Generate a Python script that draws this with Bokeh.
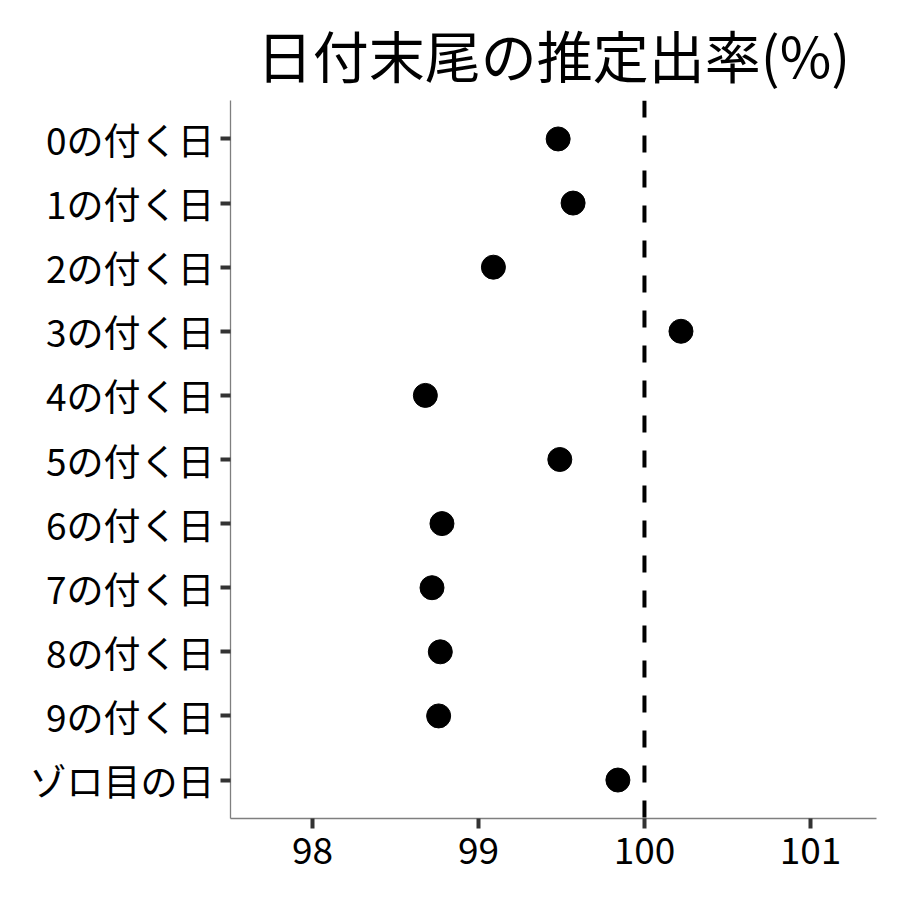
from bokeh.plotting import figure
from bokeh.models import Range1d, FixedTicker, Span, ColumnDataSource
from bokeh.embed import file_html
from bokeh.resources import INLINE

title_text = "日付末尾の推定出率(%)"
categories = ["0の付く日", "1の付く日", "2の付く日", "3の付く日", "4の付く日",
              "5の付く日", "6の付く日", "7の付く日", "8の付く日", "9の付く日", "ゾロ目の日"]
rates = [99.48, 99.57, 99.09, 100.22, 98.68, 99.49, 98.78, 98.72, 98.77, 98.76, 99.84]
x_ticks = [98, 99, 100, 101]
reference_value = 100

FONT = "Noto Sans CJK JP"
n = len(categories)
ypos = [n - i for i in range(n)]

p = figure(width=884, height=884, output_backend="svg", toolbar_location=None,
           x_range=Range1d(97.506, 101.398), y_range=Range1d(0.4, n + 0.6),
           min_border_left=230, min_border_right=8, min_border_top=100, min_border_bottom=66)

p.title.text = title_text
p.title.text_font = FONT
p.title.text_font_size = "56px"
p.title.text_font_style = "normal"
p.title.align = "center"
p.title.vertical_align = "top"
p.title.text_color = "black"
p.title.standoff = 10

src = ColumnDataSource(dict(x=rates, y=ypos, label=categories))
p.add_layout(Span(location=reference_value, dimension="height", line_color="black",
                  line_width=4, line_dash="17 18"))
p.scatter("x", "y", source=src, size=24, color="black")

p.grid.visible = False
p.outline_line_color = None

p.xaxis.ticker = FixedTicker(ticks=x_ticks)
p.yaxis.ticker = FixedTicker(ticks=ypos)
p.yaxis.major_label_overrides = {y: c for y, c in zip(ypos, categories)}

for ax in (p.xaxis[0], p.yaxis[0]):
    ax.axis_line_color = "#7f7f7f"
    ax.axis_line_width = 1.3
    ax.major_tick_line_color = "#333333"
    ax.major_tick_line_width = 4
    ax.major_tick_out = 10
    ax.major_tick_in = 0
    ax.minor_tick_line_color = None
    ax.major_label_text_font = FONT
    ax.major_label_text_font_size = "37px"
    ax.major_label_text_color = "black"

p.xaxis.major_label_standoff = 8
p.yaxis.major_label_standoff = 6

open("out.html", "w").write(file_html(p, INLINE))
